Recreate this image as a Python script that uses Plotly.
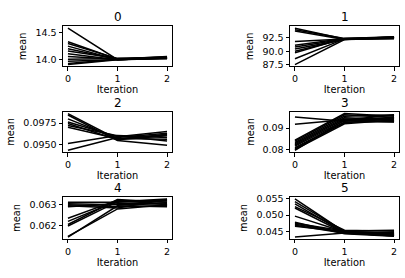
import plotly.graph_objects as go

iterations = [0, 1, 2]
panel_titles = ["0", "1", "2", "3", "4", "5"]

# panel 0
p0_it0 = [14.58, 14.33, 14.30, 14.25, 14.20, 14.16, 14.11, 14.06, 14.01, 13.97, 13.93, 13.91]
p0_it1 = [14.00, 14.01, 14.02, 14.00, 14.01, 14.02, 14.00, 14.01, 14.02, 14.00, 14.01, 14.00]
p0_it2 = [14.03, 14.05, 14.02, 14.04, 14.06, 14.03, 14.02, 14.04, 14.05, 14.03, 14.02, 14.04]
# panel 1
p1_it0 = [94.3, 94.0, 93.8, 91.8, 91.1, 90.8, 90.4, 90.0, 89.7, 88.6, 87.5]
p1_it1 = [92.3, 92.4, 92.2, 92.3, 92.4, 92.3, 92.2, 92.3, 92.4, 92.3, 92.2]
p1_it2 = [92.5, 92.7, 92.4, 92.6, 92.5, 92.4, 92.7, 92.5, 92.6, 92.4, 92.5]
# panel 2
p2_it0 = [0.09862, 0.09845, 0.09800, 0.09762, 0.09745, 0.09722, 0.09700, 0.09510, 0.09430]
p2_it1 = [0.09560, 0.09545, 0.09570, 0.09590, 0.09555, 0.09600, 0.09565, 0.09605, 0.09580]
p2_it2 = [0.09620, 0.09490, 0.09560, 0.09650, 0.09600, 0.09540, 0.09610, 0.09580, 0.09630]
# panel 3
p3_it0 = [0.0952, 0.0918, 0.0843, 0.0838, 0.0832, 0.0826, 0.0820, 0.0815, 0.0808, 0.0803, 0.0798, 0.0795]
p3_it1 = [0.0932, 0.0940, 0.0968, 0.0962, 0.0955, 0.0948, 0.0942, 0.0935, 0.0928, 0.0925, 0.0920, 0.0938]
p3_it2 = [0.0945, 0.0960, 0.0955, 0.0948, 0.0962, 0.0940, 0.0935, 0.0950, 0.0930, 0.0945, 0.0938, 0.0928]
# panel 4
p4_it0 = [0.06312, 0.06305, 0.06300, 0.06295, 0.06290, 0.06235, 0.06220, 0.06205, 0.06198, 0.06148, 0.06145]
p4_it1 = [0.06312, 0.06300, 0.06290, 0.06285, 0.06305, 0.06322, 0.06318, 0.06325, 0.06315, 0.06280, 0.06295]
p4_it2 = [0.06318, 0.06305, 0.06295, 0.06325, 0.06310, 0.06300, 0.06320, 0.06312, 0.06328, 0.06300, 0.06290]
# panel 5
p5_it0 = [0.0548, 0.0540, 0.0533, 0.0525, 0.0521, 0.0497, 0.0479, 0.0476, 0.0473, 0.0470, 0.0467, 0.0435]
p5_it1 = [0.0450, 0.0452, 0.0448, 0.0455, 0.0447, 0.0450, 0.0445, 0.0453, 0.0449, 0.0446, 0.0451, 0.0447]
p5_it2 = [0.0440, 0.0445, 0.0438, 0.0452, 0.0442, 0.0448, 0.0437, 0.0455, 0.0443, 0.0440, 0.0446, 0.0439]

ytick_vals = [
    [14.0, 14.5],
    [87.5, 90.0, 92.5],
    [0.0950, 0.0975],
    [0.08, 0.09],
    [0.062, 0.063],
    [0.045, 0.050, 0.055],
]
ytick_text = [
    ["14.0", "14.5"],
    ["87.5", "90.0", "92.5"],
    ["0.0950", "0.0975"],
    ["0.08", "0.09"],
    ["0.062", "0.063"],
    ["0.045", "0.050", "0.055"],
]
xtick_vals = [0, 1, 2]

panels = [
    (p0_it0, p0_it1, p0_it2),
    (p1_it0, p1_it1, p1_it2),
    (p2_it0, p2_it1, p2_it2),
    (p3_it0, p3_it1, p3_it2),
    (p4_it0, p4_it1, p4_it2),
    (p5_it0, p5_it1, p5_it2),
]

W, H = 405, 278
col_px = [(63, 172), (290, 399)]
row_px = [(23, 64), (110.5, 152), (198, 241)]
FONT = "DejaVu Sans"

fig = go.Figure()
layout = dict(
    width=W, height=H, margin=dict(l=0, r=0, t=0, b=0),
    paper_bgcolor="white", plot_bgcolor="white", showlegend=False,
    font=dict(family=FONT, size=10, color="black"),
)
annotations = []
for i, (a, b, c) in enumerate(panels):
    r, col = divmod(i, 2)
    xn = "" if i == 0 else str(i + 1)
    x0, x1 = col_px[col]
    y0, y1 = row_px[r]
    allv = a + b + c
    lo, hi = min(allv), max(allv)
    m = (hi - lo) * 0.05
    for k in range(len(a)):
        fig.add_trace(go.Scatter(
            x=iterations, y=[a[k], b[k], c[k]], mode="lines",
            line=dict(color="black", width=1.5),
            xaxis="x" + xn, yaxis="y" + xn, hoverinfo="skip"))
    common = dict(showline=True, linecolor="black", linewidth=1, mirror=True,
                  ticks="outside", ticklen=3.5, tickwidth=1, tickcolor="black",
                  showgrid=False, zeroline=False,
                  tickfont=dict(size=9.5, family=FONT, color="black"))
    layout["xaxis" + xn] = dict(
        domain=[x0 / W, x1 / W], anchor="y" + xn, range=[-0.1, 2.1],
        tickvals=xtick_vals, ticktext=[str(v) for v in xtick_vals],
        title=dict(text="Iteration", font=dict(size=9.8, family=FONT), standoff=2), **common)
    layout["yaxis" + xn] = dict(
        domain=[1 - y1 / H, 1 - y0 / H], anchor="x" + xn, range=[lo - m, hi + m],
        tickvals=ytick_vals[i], ticktext=ytick_text[i],
        title=dict(text="mean", font=dict(size=9.8, family=FONT), standoff=6), **common)
    annotations.append(dict(
        text=panel_titles[i], x=(x0 + x1) / 2 / W, y=1 - y0 / H,
        xref="paper", yref="paper", xanchor="center", yanchor="bottom",
        yshift=1, borderpad=0, showarrow=False,
        font=dict(size=12, family=FONT, color="black")))
layout["annotations"] = annotations
fig.update_layout(**layout)
fig.write_html("out.html", config={"displayModeBar": False},
               post_script="document.body.style.margin='0';")
